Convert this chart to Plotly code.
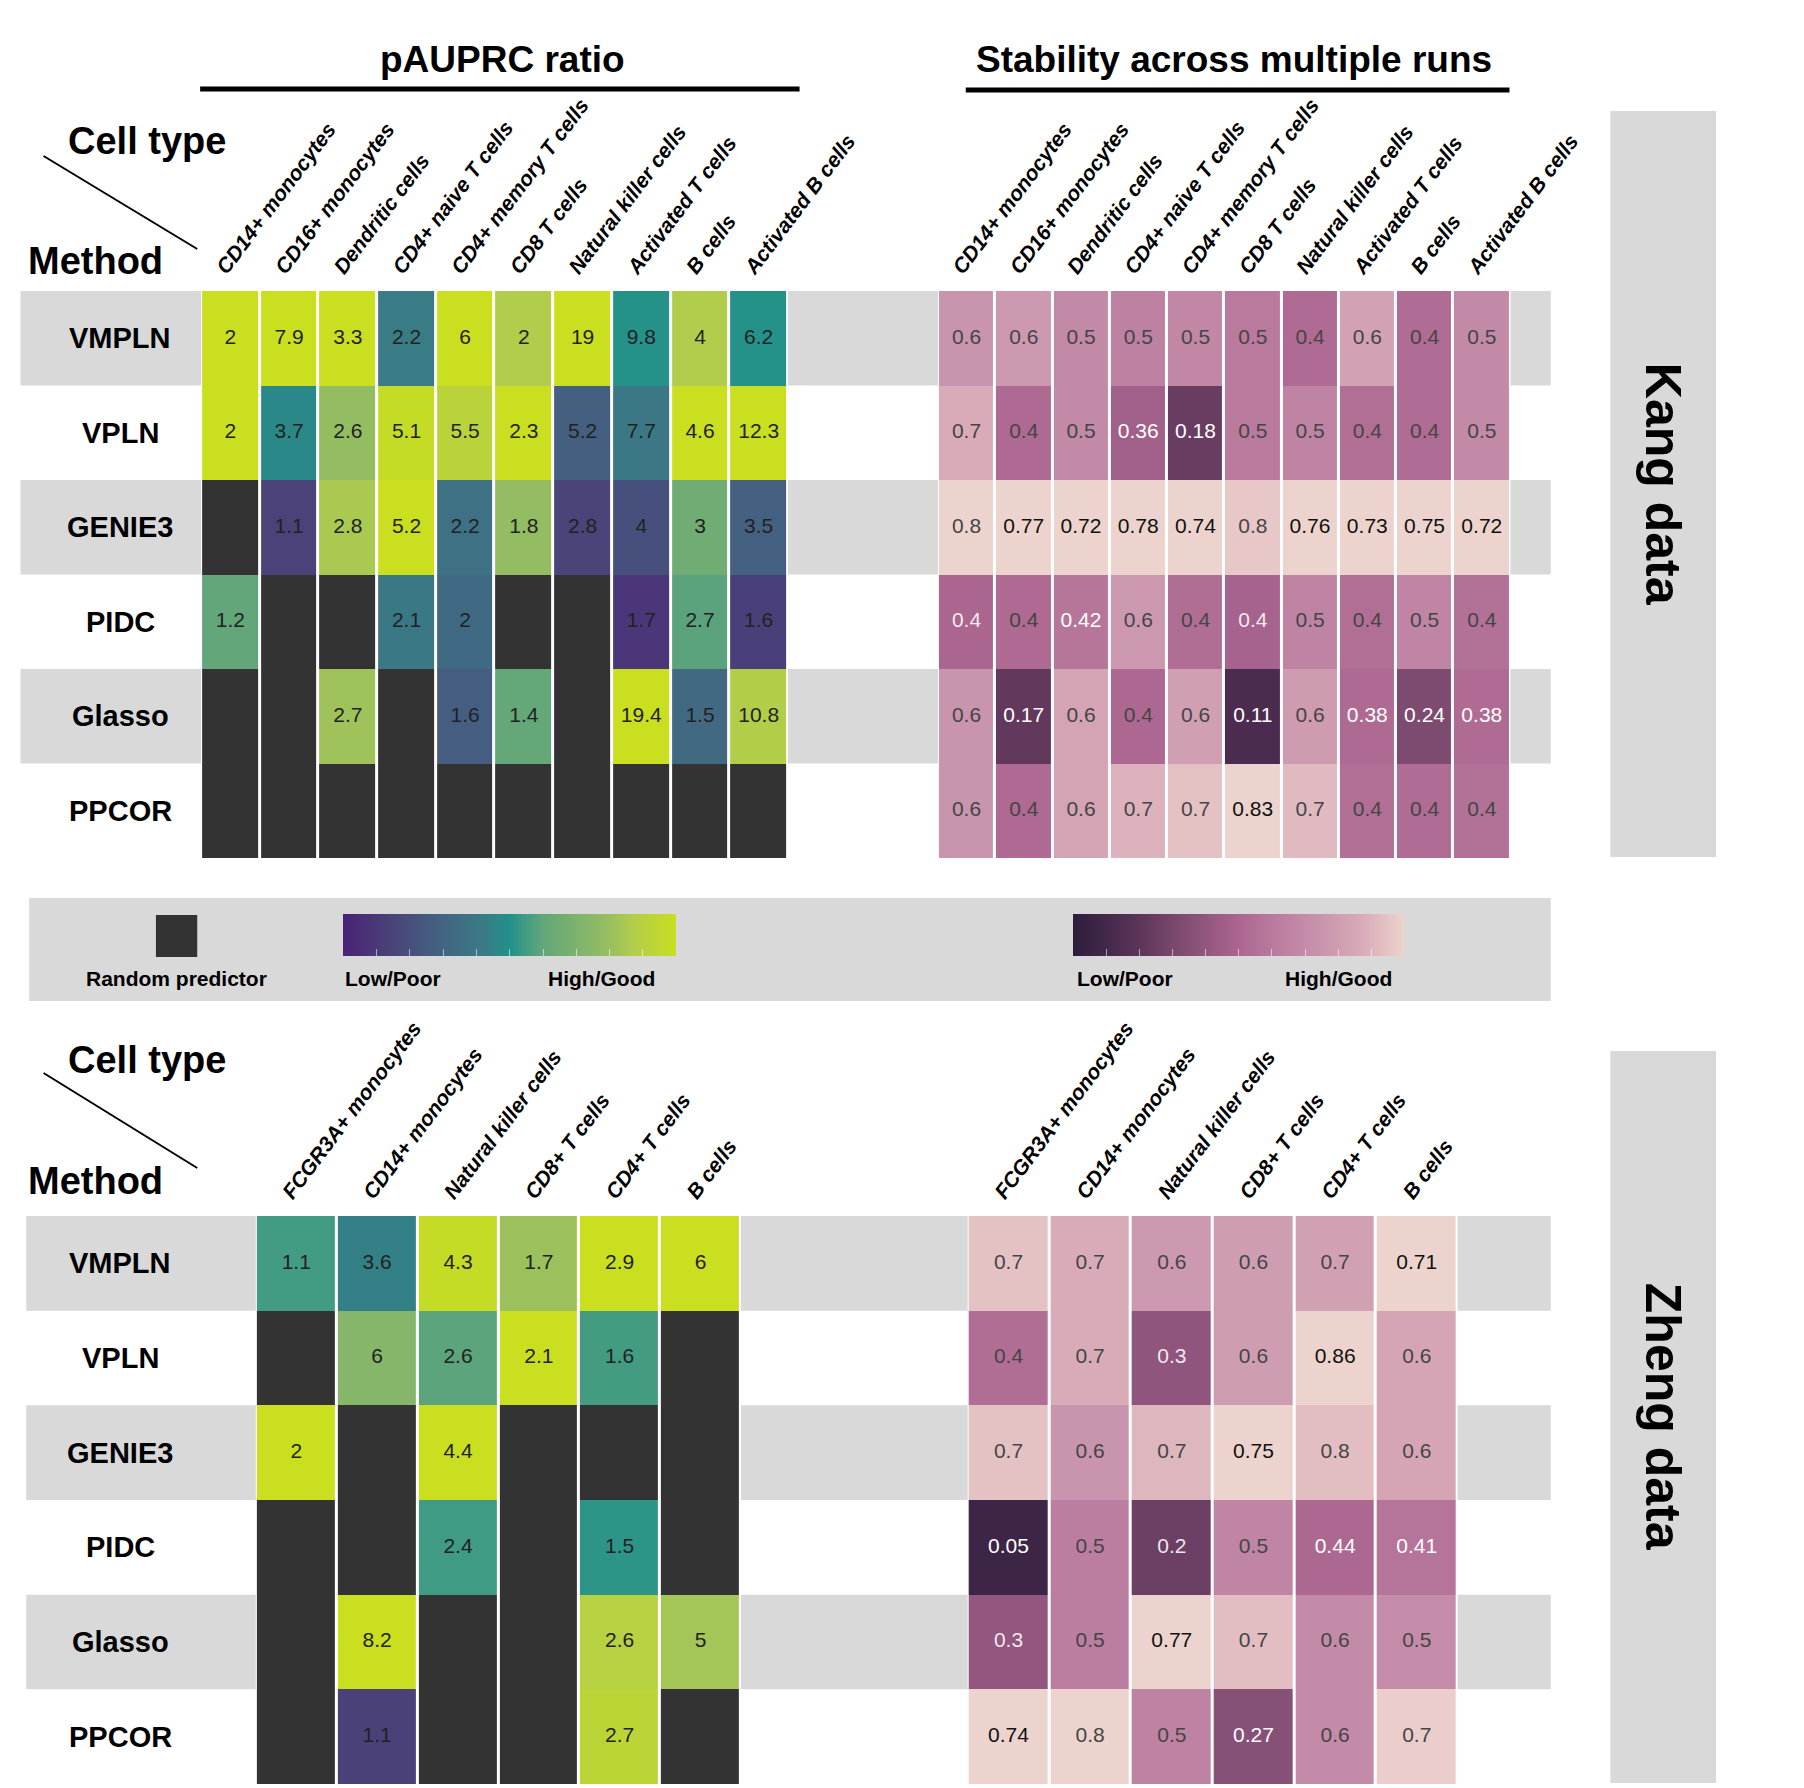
import plotly.graph_objects as go

W, H = 1804, 1788

methods = ["VMPLN", "VPLN", "GENIE3", "PIDC", "Glasso", "PPCOR"]

kang_cells = ["CD14+ monocytes", "CD16+ monocytes", "Dendritic cells", "CD4+ naive T cells",
              "CD4+ memory T cells", "CD8 T cells", "Natural killer cells", "Activated T cells",
              "B cells", "Activated B cells"]
# None = random predictor
kang_pauprc = [
    [2, 7.9, 3.3, 2.2, 6, 2, 19, 9.8, 4, 6.2],
    [2, 3.7, 2.6, 5.1, 5.5, 2.3, 5.2, 7.7, 4.6, 12.3],
    [None, 1.1, 2.8, 5.2, 2.2, 1.8, 2.8, 4, 3, 3.5],
    [1.2, None, None, 2.1, 2, None, None, 1.7, 2.7, 1.6],
    [None, None, 2.7, None, 1.6, 1.4, None, 19.4, 1.5, 10.8],
    [None, None, None, None, None, None, None, None, None, None],
]
kang_stability = [
    [0.6, 0.6, 0.5, 0.5, 0.5, 0.5, 0.4, 0.6, 0.4, 0.5],
    [0.7, 0.4, 0.5, 0.36, 0.18, 0.5, 0.5, 0.4, 0.4, 0.5],
    [0.8, 0.77, 0.72, 0.78, 0.74, 0.8, 0.76, 0.73, 0.75, 0.72],
    [0.4, 0.4, 0.42, 0.6, 0.4, 0.4, 0.5, 0.4, 0.5, 0.4],
    [0.6, 0.17, 0.6, 0.4, 0.6, 0.11, 0.6, 0.38, 0.24, 0.38],
    [0.6, 0.4, 0.6, 0.7, 0.7, 0.83, 0.7, 0.4, 0.4, 0.4],
]

zheng_cells = ["FCGR3A+ monocytes", "CD14+ monocytes", "Natural killer cells",
               "CD8+ T cells", "CD4+ T cells", "B cells"]
zheng_pauprc = [
    [1.1, 3.6, 4.3, 1.7, 2.9, 6],
    [None, 6, 2.6, 2.1, 1.6, None],
    [2, None, 4.4, None, None, None],
    [None, None, 2.4, None, 1.5, None],
    [None, 8.2, None, None, 2.6, 5],
    [None, 1.1, None, None, 2.7, None],
]
zheng_stability = [
    [0.7, 0.7, 0.6, 0.6, 0.7, 0.71],
    [0.4, 0.7, 0.3, 0.6, 0.86, 0.6],
    [0.7, 0.6, 0.7, 0.75, 0.8, 0.6],
    [0.05, 0.5, 0.2, 0.5, 0.44, 0.41],
    [0.3, 0.5, 0.77, 0.7, 0.6, 0.5],
    [0.74, 0.8, 0.5, 0.27, 0.6, 0.7],
]

viridis_scale = [[0.0, "#4a2276"], [0.14, "#4a4279"], [0.27, "#455e80"], [0.42, "#3a7b86"],
                 [0.5, "#22918b"], [0.6, "#62a67a"], [0.79, "#95bd62"], [0.87, "#b1cd4b"],
                 [1.0, "#c9df1f"]]
pink_scale = [[0.0, "#2d1d3d"], [0.13, "#4a2c50"], [0.24, "#673c60"], [0.32, "#7d4a70"],
              [0.5, "#ab6690"], [0.62, "#bb7d9f"], [0.75, "#c994ad"], [0.875, "#d9abb8"],
              [1.0, "#edd3cd"]]

RANDOM = "#333333"
BAND = "#d9d9d9"
FONT = "Liberation Sans, Arial, sans-serif"


def fx(px):
    return px / W


def fy(py):
    return 1 - py / H


def column_ratio(values):
    # colour = value relative to the best value of its cell type
    ncol = len(values[0])
    maxes = []
    for j in range(ncol):
        col = [r[j] for r in values if r[j] is not None]
        maxes.append(max(col) if col else 1)
    return [[None if v is None else v / maxes[j] for j, v in enumerate(r)] for r in values]


def label_color(v, r, kind):
    if kind == "pauprc":
        return "#222222"
    s = f"{v:g}"
    if len(s) > 3:
        return "white" if r < 0.6 else "#111111"
    return "rgba(255,255,255,0.88)" if r <= 0.5 else "#454545"


fig = go.Figure()
shapes = []
annotations = []


def add_panel(n, cells, values, scale, kind, box, colorbar=None):
    x0, x1, y0, y1 = box
    ratio = column_ratio(values)
    random_z = [[1 if v is None else None for v in r] for r in values]
    xa = "x" if n == 1 else f"x{n}"
    ya = "y" if n == 1 else f"y{n}"

    fig.add_trace(go.Heatmap(z=random_z, x=cells, y=methods, xaxis=xa, yaxis=ya,
                             colorscale=[[0, RANDOM], [1, RANDOM]], showscale=False,
                             xgap=3, ygap=0, hoverinfo="skip"))
    hm = dict(z=ratio, x=cells, y=methods, xaxis=xa, yaxis=ya, colorscale=scale,
              zmin=0, zmax=1, xgap=3, ygap=0, hoverinfo="skip", showscale=colorbar is not None)
    if colorbar is not None:
        hm["colorbar"] = colorbar
    fig.add_trace(go.Heatmap(**hm))

    tx, ty, tt, tc = [], [], [], []
    for i, m in enumerate(methods):
        for j, c in enumerate(cells):
            v = values[i][j]
            if v is None:
                continue
            tx.append(c)
            ty.append(m)
            tt.append(f"{v:g}")
            tc.append(label_color(v, ratio[i][j], kind))
    fig.add_trace(go.Scatter(x=tx, y=ty, text=tt, mode="text", xaxis=xa, yaxis=ya,
                             textfont=dict(family=FONT, size=21, color=tc),
                             hoverinfo="skip", showlegend=False))

    fig.layout[xa.replace("x", "xaxis")] = dict(
        domain=[fx(x0), fx(x1)], anchor=ya, side="top", range=[-0.5, len(cells) - 0.5],
        showgrid=False, zeroline=False, showline=False, ticks="", tickangle=-53,
        ticklabelstandoff=6, ticklabelshift=-12,
        tickfont=dict(family=FONT, size=21, color="black", weight="bold", style="italic"))
    fig.layout[ya.replace("y", "yaxis")] = dict(
        domain=[fy(y1), fy(y0)], anchor=xa, range=[len(methods) - 0.5, -0.5],
        showgrid=False, zeroline=False, showline=False, showticklabels=False, ticks="")

    # white backing so the column gaps stay white over grey bands
    shapes.append(dict(type="rect", xref="paper", yref="paper", x0=fx(x0), x1=fx(x1),
                       y0=fy(y1), y1=fy(y0), fillcolor="white", line_width=0, layer="below"))


def cbar(x0, x1, y0, y1):
    return dict(orientation="h", x=fx(x0), xanchor="left", y=fy(y0), yanchor="top",
                len=x1 - x0, lenmode="pixels", thickness=y1 - y0, thicknessmode="pixels",
                xpad=0, ypad=0, outlinewidth=0, showticklabels=False,
                tickvals=[k / 10 for k in range(1, 10)], ticks="inside", ticklen=7,
                tickcolor="rgba(255,255,255,0.55)", tickwidth=1)


def add_block(top, bottom, band_left, ref_y):
    h = (bottom - top) / len(methods)
    for i in range(0, len(methods), 2):
        shapes.append(dict(type="rect", xref="paper", yref="paper",
                           x0=fx(band_left), x1=fx(1606),
                           y0=fy(top + (i + 1) * h), y1=fy(top + i * h),
                           fillcolor=BAND, line_width=0, layer="below"))
    for m in methods:
        annotations.append(dict(text=f"<b>{m}</b>", x=fx(117), xref="paper", y=m, yref=ref_y,
                                showarrow=False, xanchor="center", yanchor="middle",
                                font=dict(family=FONT, size=29, color="black")))


# Kang block
add_block(283, 850, 13, "y")
add_panel(1, kang_cells, kang_pauprc, viridis_scale, "pauprc", (201, 812, 283, 850),
          colorbar=cbar(349, 682, 906, 948))
add_panel(2, kang_cells, kang_stability, pink_scale, "stab", (968, 1564, 283, 850),
          colorbar=cbar(1109, 1440, 906, 948))
# Zheng block
add_block(1208, 1776, 19, "y3")
add_panel(3, zheng_cells, zheng_pauprc, viridis_scale, "pauprc", (258, 763, 1208, 1776))
add_panel(4, zheng_cells, zheng_stability, pink_scale, "stab", (999, 1509, 1208, 1776))

# legend box (drawn first so it sits under the colourbars)
shapes.insert(0, dict(type="rect", xref="paper", yref="paper", x0=fx(22), x1=fx(1606),
                      y0=fy(993), y1=fy(890), fillcolor=BAND, line_width=0, layer="below"))
shapes.append(dict(type="rect", xref="paper", yref="paper", x0=fx(154), x1=fx(197),
                   y0=fy(949), y1=fy(907), fillcolor=RANDOM, line_width=0))

# facet strips
for sy0, sy1, txt in [(103, 849, "Kang data"), (1043, 1775, "Zheng data")]:
    shapes.append(dict(type="rect", xref="paper", yref="paper", x0=fx(1668), x1=fx(1778),
                       y0=fy(sy1), y1=fy(sy0), fillcolor=BAND, line_width=0, layer="below"))
    annotations.append(dict(text=f"<b>{txt}</b>", x=fx(1723), y=fy((sy0 + sy1) / 2),
                            xref="paper", yref="paper", showarrow=False, textangle=90,
                            xanchor="center", yanchor="middle",
                            font=dict(family=FONT, size=50, color="black")))

# titles with underline
for cx, txt, lx0, lx1, ly in [(515, "pAUPRC ratio", 200, 824, 81),
                              (1276, "Stability across multiple runs", 997, 1563, 82)]:
    annotations.append(dict(text=f"<b>{txt}</b>", x=fx(cx), y=fy(52), xref="paper", yref="paper",
                            showarrow=False, xanchor="center", yanchor="middle",
                            font=dict(family=FONT, size=37, color="black")))
    shapes.append(dict(type="line", xref="paper", yref="paper", x0=fx(lx0), x1=fx(lx1),
                       y0=fy(ly), y1=fy(ly), line=dict(color="black", width=5)))

# "Cell type / Method" corner headers
for ct_y, me_y, d0, d1 in [(133, 253, 148, 241), (1052, 1173, 1065, 1160)]:
    annotations.append(dict(text="<b>Cell type</b>", x=fx(60), y=fy(ct_y), xref="paper", yref="paper",
                            showarrow=False, xanchor="left", yanchor="middle",
                            font=dict(family=FONT, size=38, color="black")))
    annotations.append(dict(text="<b>Method</b>", x=fx(19), y=fy(me_y), xref="paper", yref="paper",
                            showarrow=False, xanchor="left", yanchor="middle",
                            font=dict(family=FONT, size=38, color="black")))
    shapes.append(dict(type="line", xref="paper", yref="paper", x0=fx(37), x1=fx(197),
                       y0=fy(d0), y1=fy(d1), line=dict(color="black", width=2)))

# legend labels
leg_font = dict(family=FONT, size=21, color="black")
for x, txt, anchor in [(175, "Random predictor", "center"), (349, "Low/Poor", "left"),
                       (676, "High/Good", "right"), (1111, "Low/Poor", "left"),
                       (1443, "High/Good", "right")]:
    annotations.append(dict(text=f"<b>{txt}</b>", x=fx(x), y=fy(970), xref="paper", yref="paper",
                            showarrow=False, xanchor=anchor, yanchor="middle", font=leg_font))

fig.update_layout(
    width=W, height=H,
    margin=dict(l=0, r=0, t=0, b=0),
    paper_bgcolor="white", plot_bgcolor="rgba(0,0,0,0)",
    showlegend=False,
    shapes=shapes,
    annotations=annotations,
    font=dict(family=FONT),
)

fig.write_html("out.html")
